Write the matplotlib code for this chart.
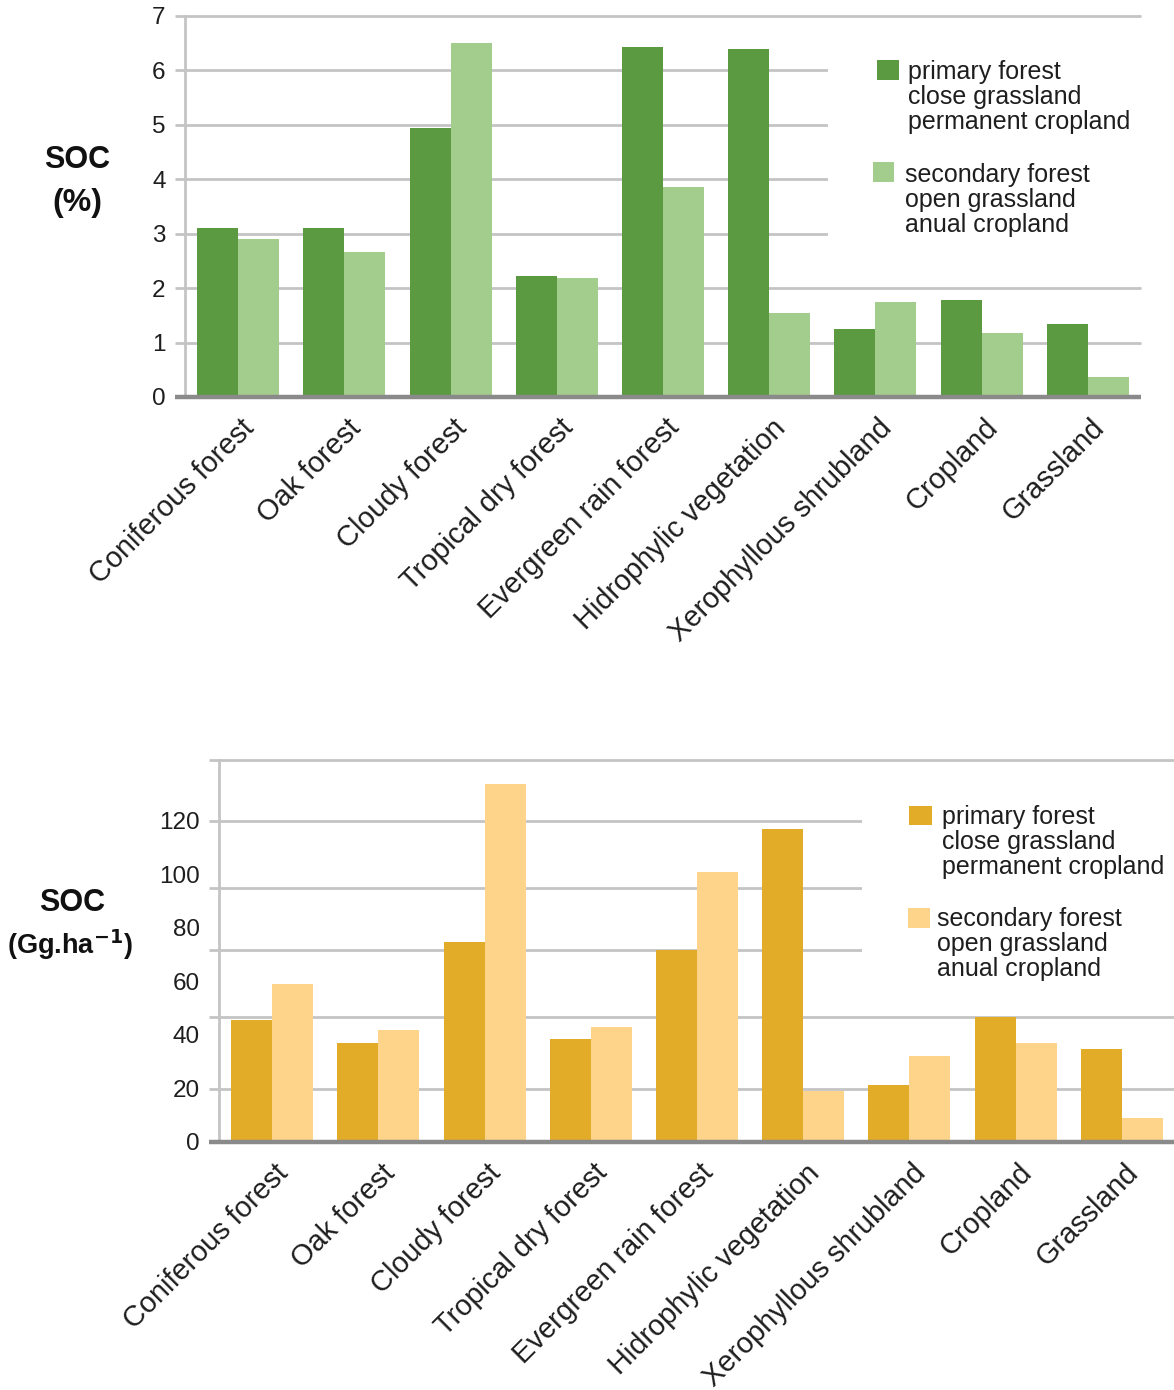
import numpy as np
import matplotlib
matplotlib.use("Agg")
import matplotlib.pyplot as plt
import matplotlib.transforms as mtransforms
from matplotlib.patches import Rectangle

plt.rcParams['font.family'] = ['Liberation Sans', 'DejaVu Sans']
plt.rcParams['mathtext.default'] = 'bf'

categories = ['Coniferous forest', 'Oak forest', 'Cloudy forest', 'Tropical dry forest',
              'Evergreen rain forest', 'Hidrophylic vegetation', 'Xerophyllous shrubland',
              'Cropland', 'Grassland']

# SOC (%)
soc_pct_primary = [3.11, 3.11, 4.94, 2.22, 6.43, 6.40, 1.25, 1.78, 1.34]
soc_pct_secondary = [2.90, 2.67, 6.51, 2.19, 3.86, 1.54, 1.75, 1.18, 0.37]

# SOC (Gg/ha)
soc_gg_primary = [45.6, 37.1, 74.9, 38.4, 71.8, 116.9, 21.3, 46.6, 34.8]
soc_gg_secondary = [59.2, 41.9, 133.8, 42.9, 100.8, 19.1, 32.1, 36.9, 8.9]

legend_primary = ['primary forest', 'close grassland', 'permanent cropland']
legend_secondary = ['secondary forest', 'open grassland', 'anual cropland']

GRID = '#c4c4c4'
AXIS = '#8a8a8a'
TXT = '#1e1e1e'


def draw_panel(ax, primary, secondary, colors, ylim, yticks, grid_levels, leg):
    x = np.arange(len(categories))
    w = 0.386
    ax.bar(x - w / 2, primary, w, color=colors[0], zorder=3)
    ax.bar(x + w / 2, secondary, w, color=colors[1], zorder=3)
    ax.set_xlim(-0.5, len(categories) - 0.5)
    ax.set_ylim(*ylim)

    for s in ['top', 'right', 'bottom']:
        ax.spines[s].set_visible(False)
    ax.spines['left'].set_color(GRID)
    ax.spines['left'].set_linewidth(2)

    ext = -10 / 956
    for g in grid_levels:
        ax.axhline(g, xmin=ext, xmax=1, color=GRID, lw=2, zorder=1, clip_on=False,
                   solid_capstyle='butt')
    ax.axhline(0, xmin=ext, xmax=1, color=AXIS, lw=3.2, zorder=4, clip_on=False,
               solid_capstyle='butt')

    ax.set_yticks(yticks)
    ax.set_yticklabels([str(t) for t in yticks], fontsize=17.5, color=TXT)
    ax.tick_params(axis='y', length=0, pad=14)

    ax.set_xticks(x)
    ax.set_xticklabels(categories, rotation=45, ha='right', rotation_mode='anchor',
                       fontsize=20.8, color=TXT)
    ax.tick_params(axis='x', length=0, pad=12)
    off = mtransforms.ScaledTranslation(0.02, 0, ax.figure.dpi_scale_trans)
    for lab in ax.get_xticklabels():
        lab.set_transform(lab.get_transform() + off)

    # legend block
    bx = leg['box']
    ax.add_patch(Rectangle((bx[0], bx[1]), bx[2], bx[3], transform=ax.transAxes,
                           facecolor='white', edgecolor='none', zorder=2, clip_on=False))
    for sq, tx, lines, col in [(leg['sq1'], leg['tx1'], legend_primary, colors[0]),
                               (leg['sq2'], leg['tx2'], legend_secondary, colors[1])]:
        ax.add_patch(Rectangle((sq[0], sq[1]), sq[2], sq[3], transform=ax.transAxes,
                               facecolor=col, edgecolor='none', zorder=5))
        for i, line in enumerate(lines):
            ax.text(tx[0], tx[1] - i * leg['dy'], line, transform=ax.transAxes,
                    fontsize=18, color=TXT, va='center', ha='left', zorder=6)


fig = plt.figure(figsize=(11.74, 13.9), dpi=100)

ax1 = fig.add_axes([0.1576, 0.7144, 0.8143, 0.2741])
draw_panel(ax1, soc_pct_primary, soc_pct_secondary, ['#5b9a41', '#a3cd8d'],
           (0, 7), list(range(8)), list(range(1, 8)),
           {'box': (0.673, 0.354, 0.34, 0.57),
            'sq1': (0.7238, 0.832, 0.023, 0.0525), 'tx1': (0.7563, 0.853),
            'sq2': (0.7197, 0.5643, 0.022, 0.0525), 'tx2': (0.7531, 0.5827),
            'dy': 0.0656})

ax2 = fig.add_axes([0.18654, 0.17842, 0.8143, 0.27482])
draw_panel(ax2, soc_gg_primary, soc_gg_secondary, ['#e2ab28', '#fdd489'],
           (0, 142.8), list(range(0, 121, 20)), [19.7, 46.7, 71.8, 95.0, 120, 142.8],
           {'box': (0.6726, 0.3717, 0.34, 0.563),
            'sq1': (0.7218, 0.8298, 0.024, 0.0498), 'tx1': (0.7563, 0.8508),
            'sq2': (0.7207, 0.5602, 0.023, 0.0524), 'tx2': (0.7510, 0.5838),
            'dy': 0.0655})

fig.text(0.0656, 0.8849, 'SOC', fontsize=22, fontweight='bold', ha='center', va='center', color='#111111')
fig.text(0.0656, 0.854, '(%)', fontsize=23, fontweight='bold', ha='center', va='center', color='#111111')
fig.text(0.0613, 0.3504, 'SOC', fontsize=22, fontweight='bold', ha='center', va='center', color='#111111')
fig.text(0.0596, 0.3201, r'(Gg.ha$^{-1}$)', fontsize=19.5, fontweight='bold', ha='center', va='center', color='#111111')

fig.savefig('out.png', dpi=100)
